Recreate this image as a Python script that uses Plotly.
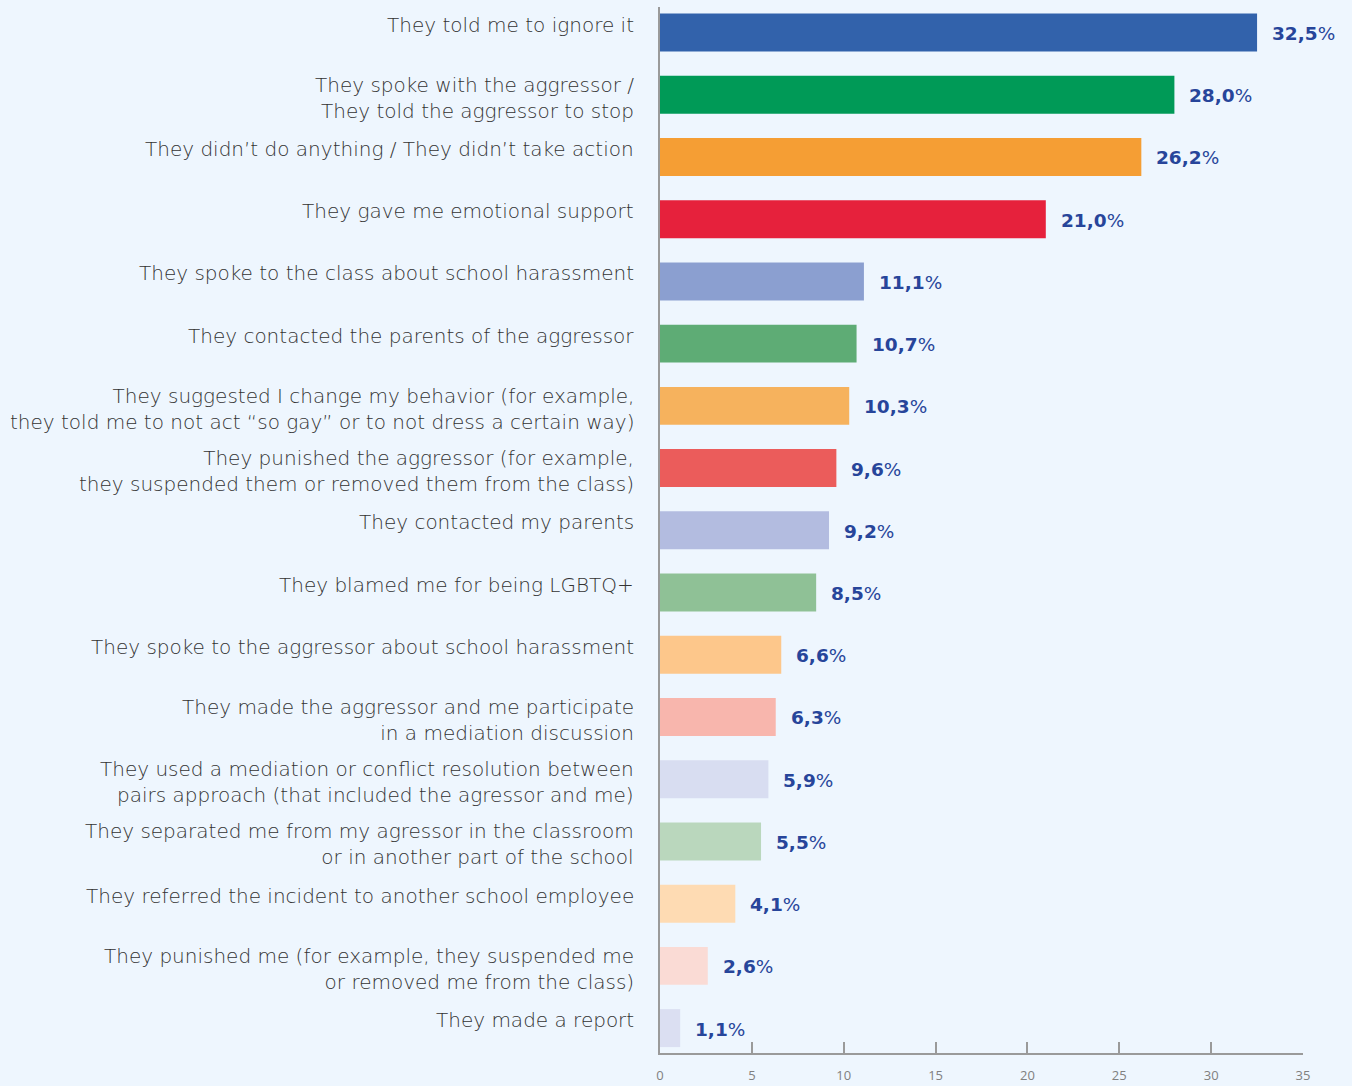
import plotly.graph_objects as go

# Responses from school staff after a harassment incident was reported
responses = [
    "They told me to ignore it",
    "They spoke with the aggressor /<br>They told the aggressor to stop",
    "They didn’t do anything / They didn’t take action",
    "They gave me emotional support",
    "They spoke to the class about school harassment",
    "They contacted the parents of the aggressor",
    "They suggested I change my behavior (for example,<br>they told me to not act “so gay” or to not dress a certain way)",
    "They punished the aggressor (for example,<br>they suspended them or removed them from the class)",
    "They contacted my parents",
    "They blamed me for being LGBTQ+",
    "They spoke to the aggressor about school harassment",
    "They made the aggressor and me participate<br>in a mediation discussion",
    "They used a mediation or conflict resolution between<br>pairs approach (that included the agressor and me)",
    "They separated me from my agressor in the classroom<br>or in another part of the school",
    "They referred the incident to another school employee",
    "They punished me (for example, they suspended me<br>or removed me from the class)",
    "They made a report",
]
percentages = [32.5, 28.0, 26.2, 21.0, 11.1, 10.7, 10.3, 9.6, 9.2, 8.5, 6.6, 6.3, 5.9, 5.5, 4.1, 2.6, 1.1]
bar_colors = [
    "#3262AB", "#009A57", "#F59E34", "#E6213C", "#8B9FD0", "#5EAC75",
    "#F6B25D", "#EB5C5B", "#B3BCE0", "#8FC196", "#FDC78B", "#F8B6AD",
    "#D8DDF1", "#BAD7BD", "#FEDBB3", "#FADBD5", "#DBDFF2",
]
x_ticks = [0, 5, 10, 15, 20, 25, 30, 35]

BG = "#EEF6FE"
LABEL_COLOR = "#333333"
VALUE_COLOR = "#27459A"
AXIS_COLOR = "#9A9A9A"
LABEL_FONT = "DejaVu Sans"

positions = list(range(len(responses)))

fig = go.Figure(
    go.Bar(
        x=percentages,
        y=positions,
        orientation="h",
        marker=dict(color=bar_colors, line=dict(width=0)),
        width=0.61,
        hoverinfo="skip",
    )
)

annotations = []
for pos, label, value in zip(positions, responses, percentages):
    two_lines = "<br>" in label
    annotations.append(
        dict(
            x=0, xref="paper", y=pos, yref="y",
            xanchor="right", yanchor="middle",
            xshift=-24, yshift=-3 if two_lines else 8,
            text=label, align="right", showarrow=False,
            font=dict(family=LABEL_FONT, size=20, color=LABEL_COLOR, weight=200),
        )
    )
    value_text = f"{value:.1f}".replace(".", ",")
    annotations.append(
        dict(
            x=value, xref="x", y=pos, yref="y",
            xanchor="left", yanchor="middle", xshift=13, yshift=-1,
            text=f"<b>{value_text}</b>%", showarrow=False,
            font=dict(family=LABEL_FONT, size=18.5, color=VALUE_COLOR),
        )
    )

fig.update_layout(
    width=1352,
    height=1086,
    paper_bgcolor=BG,
    plot_bgcolor=BG,
    margin=dict(l=660, r=49, t=7, b=33, autoexpand=False),
    showlegend=False,
    annotations=annotations,
    xaxis=dict(
        range=[0, 35],
        tickvals=x_ticks,
        ticktext=[str(t) for t in x_ticks],
        showgrid=False,
        zeroline=False,
        showline=True,
        linecolor=AXIS_COLOR,
        linewidth=2,
        ticks="inside",
        ticklen=11,
        tickwidth=1.5,
        tickcolor=AXIS_COLOR,
        ticklabelstandoff=9,
        tickfont=dict(family="Open Sans", size=13, color="#808080"),
        automargin=False,
        fixedrange=True,
    ),
    yaxis=dict(
        range=[16.40, -0.41],
        showticklabels=False,
        showgrid=False,
        zeroline=False,
        showline=True,
        linecolor=AXIS_COLOR,
        linewidth=2,
        ticks="",
        automargin=False,
        fixedrange=True,
    ),
)

fig.write_html("out.html")
